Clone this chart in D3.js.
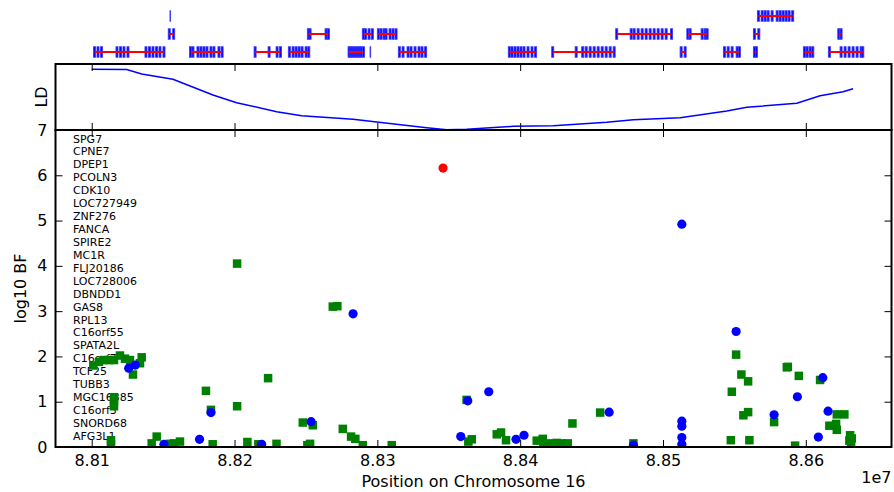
<!DOCTYPE html>
<html>
<head>
<meta charset="utf-8">
<script src="https://cdn.jsdelivr.net/npm/d3@7"></script>
<style>
  body { margin: 0; background: #fff; }
  svg { display: block; font-family: "DejaVu Sans", sans-serif; }
</style>
</head>
<body>
<svg id="chart" width="894" height="492"></svg>
<script>
// ---- data -------------------------------------------------------------
const xTicks = [88100000, 88200000, 88300000, 88400000, 88500000, 88600000];
const yTicks = [0, 1, 2, 3, 4, 5, 6, 7];

// Genes in the region, listed in the panel
const geneNames = ["SPG7", "CPNE7", "DPEP1", "PCOLN3", "CDK10", "LOC727949", "ZNF276",
  "FANCA", "SPIRE2", "MC1R", "FLJ20186", "LOC728006", "DBNDD1", "GAS8", "RPL13",
  "C16orf55", "SPATA2L", "C16orf7", "TCF25", "TUBB3", "MGC16385", "C16orf3",
  "SNORD68", "AFG3L1"];

// Gene models: track row and exon start positions (bp)
const geneRows = [3, 3, 3, 3, 3, 3, 3, 2, 2, 2, 2, 3, 3, 3, 3, 3, 3, 3, 2, 2, 2, 2, 1, 1];
const geneExons = [
  [88101300, 88103700, 88106200, 88117000, 88119500, 88121900, 88124700, 88137300, 88139800, 88142200, 88144700, 88147100, 88149900],
  [88168500, 88170200, 88173700, 88175800, 88177900, 88180000, 88182800, 88184900, 88188400, 88190600],
  [88213700, 88223500, 88229100, 88231500],
  [88237700, 88240300, 88242400, 88244500, 88246600, 88249400, 88251300],
  [88279500, 88280900, 88282300, 88283700, 88285100, 88286500, 88287900, 88289600],
  [88294900],
  [88314700, 88317300, 88320800, 88322900, 88325700, 88328500, 88330600, 88333100],
  [88153600, 88156700],
  [88251000, 88252200, 88263400, 88265000],
  [88289500, 88291000, 88293500, 88295800],
  [88300000, 88301900, 88304000, 88305400, 88308200, 88310300, 88312400],
  [88391700, 88393600, 88395700, 88397800, 88399900, 88402000, 88404800, 88407600, 88410100],
  [88422100, 88438500, 88443100, 88445500, 88448300, 88451100, 88453900, 88456700, 88459500, 88462300, 88465100],
  [88512000, 88514800],
  [88542300, 88544900, 88547700, 88551200, 88552800],
  [88563300, 88564700],
  [88598300, 88600200, 88602300, 88604200],
  [88615800, 88624000, 88626800, 88629600, 88632400, 88635200, 88638000, 88639200],
  [88466900, 88477000, 88479100, 88481900, 88484700, 88487500, 88490300, 88493100, 88495900, 88498700, 88501500, 88505300],
  [88516700, 88518300, 88526700, 88528800, 88530200],
  [88563300, 88566400],
  [88622400, 88624000],
  [88154800],
  [88566100, 88568700, 88570800, 88572900, 88575700, 88579200, 88581300, 88583400, 88585500, 88587600, 88590100]
];

// LD profile relative to the top SNP
const ldPos = [88100000, 88124500, 88135000, 88156900, 88184900, 88201500, 88229500, 88247000,
  88283000, 88299600, 88334600, 88348600, 88362600, 88395200, 88423200, 88460600, 88479300,
  88512000, 88544700, 88558700, 88593700, 88610000, 88626100, 88633100];
const ldVal = [0.92, 0.915, 0.85, 0.77, 0.53, 0.414, 0.277, 0.217, 0.162, 0.121, 0.035, 0.005,
  0.011, 0.056, 0.065, 0.117, 0.156, 0.186, 0.288, 0.344, 0.405, 0.52, 0.58, 0.626];

// Genotyped SNPs (log10 Bayes factor)
const bluePos = [88513200, 88551200, 88462300, 88513200, 88513200, 88513200, 88513200, 88479300,
  88577800, 88594100, 88611900, 88615600, 88608800, 88283000, 88253600, 88363300, 88378000,
  88358400, 88219000, 88397100, 88402700, 88125900, 88130500, 88183500, 88175500, 88150600];
const blueVal = [4.92, 2.55, 0.77, 0.57, 0.46, 0.21, 0.06, 0.04, 0.71, 1.11, 1.53, 0.79, 0.22,
  2.94, 0.56, 1.02, 1.22, 0.23, 0.06, 0.17, 0.26, 1.74, 1.81, 0.76, 0.17, 0.06];

// Imputed SNPs (log10 Bayes factor)
const greenPos = [88101100, 88105100, 88108600, 88112100, 88115600, 88119800, 88123300, 88126800,
  88135000, 88133800, 88128900, 88115600, 88115600, 88115600, 88113500, 88113500, 88145500,
  88142000, 88154800, 88161800, 88157600, 88180000, 88183500, 88184700, 88201800, 88201800,
  88223500, 88209000, 88216700, 88229400, 88247800, 88254800, 88252900, 88251000, 88268800,
  88272000, 88275800, 88281600, 88284600, 88289800, 88310100, 88362500, 88363700, 88366100,
  88383600, 88386600, 88390100, 88411600, 88415800, 88416200, 88420900, 88425600, 88429100,
  88433300, 88436600, 88456000, 88479300, 88551200, 88554900, 88559600, 88548200, 88556300,
  88559600, 88547500, 88560500, 88586700, 88587400, 88595100, 88610000, 88577800, 88592500,
  88616500, 88621200, 88621700, 88621700, 88627000, 88631000, 88632200, 88630500, 88631700];
const greenVal = [1.80, 1.88, 1.92, 1.92, 1.92, 2.02, 1.95, 1.92,
  1.98, 1.85, 1.60, 1.10, 1.00, 0.90, 0.15, 0.07, 0.23,
  0.08, 0.07, 0.12, 0.08, 1.24, 0.82, 0.06, 4.05, 0.90,
  1.52, 0.11, 0.06, 0.07, 0.54, 0.48, 0.07, 0.04, 3.10,
  3.11, 0.40, 0.23, 0.18, 0.04, 0.04, 1.04, 0.12, 0.17,
  0.28, 0.32, 0.15, 0.14, 0.18, 0.07, 0.08, 0.09, 0.08,
  0.08, 0.52, 0.76, 0.08, 2.04, 1.60, 1.45, 1.22, 0.70,
  0.77, 0.15, 0.15, 1.76, 1.77, 1.57, 1.48, 0.55, 0.03,
  0.47, 0.51, 0.38, 0.72, 0.72, 0.26, 0.19, 0.14, 0.08];

// Lead SNP
const topPos = [88346000];
const topVal = [6.16];

// ---- layout -----------------------------------------------------------
const svg = d3.select("#chart");
const left = 55.5, right = 891.5;
const mainTop = 130, mainBottom = 447;
const ldTop = 64, ldBottom = 130;

const x = d3.scaleLinear().domain([88074650, 88660000]).range([left, right]);
const y = d3.scaleLinear().domain([0, 7]).range([mainBottom, mainTop]);
const ldY = d3.scaleLinear().domain([0, 1]).range([ldBottom, ldTop]);
const rowY = d3.scalePoint().domain([1, 2, 3]).range([16, 52]);

svg.append("rect").attr("width", 894).attr("height", 492).attr("fill", "#fff");

// ---- gene track -------------------------------------------------------
const exonW = 1400, exonH = 10.5;
const track = svg.append("g");
geneExons.forEach((exons, i) => {
  const g = track.append("g");
  const cy = rowY(geneRows[i]);
  const w = exons.length === 1 ? 400 : exonW;
  g.selectAll("rect").data(exons).enter().append("rect")
    .attr("x", d => x(d))
    .attr("y", cy - exonH / 2)
    .attr("width", x(88100000 + w) - x(88100000))
    .attr("height", exonH)
    .attr("fill", "#0000ff")
    .attr("stroke", "#3a3aff")
    .attr("stroke-width", 0.9);
  if (exons.length > 1) {
    const half = (x(88100000 + exonW) - x(88100000)) / 2;
    g.append("line")
      .attr("x1", x(d3.min(exons)) + half).attr("x2", x(d3.max(exons)) + half)
      .attr("y1", cy).attr("y2", cy)
      .attr("stroke", "#ff0000").attr("stroke-width", 2);
  }
});

// ---- LD panel ---------------------------------------------------------
const ldLine = d3.line().x((d, i) => x(ldPos[i])).y(d => ldY(d));
svg.append("path").datum(ldVal)
  .attr("d", ldLine)
  .attr("fill", "none").attr("stroke", "#0000ff").attr("stroke-width", 1.5);

function styleAxis(g) {
  g.select(".domain").remove();
  g.selectAll(".tick line").attr("stroke", "#000").attr("stroke-width", 1);
  g.selectAll(".tick text").attr("fill", "#000");
}

svg.append("g").attr("transform", `translate(0,${ldBottom})`)
  .call(d3.axisBottom(x).tickValues(xTicks).tickSize(-7).tickFormat(""))
  .call(styleAxis);
svg.append("g").attr("transform", `translate(0,${ldTop})`)
  .call(d3.axisTop(x).tickValues(xTicks).tickSize(-7).tickFormat(""))
  .call(styleAxis);

svg.append("rect")
  .attr("x", left).attr("y", ldTop).attr("width", right - left).attr("height", ldBottom - ldTop)
  .attr("fill", "none").attr("stroke", "#000").attr("stroke-width", 2);

svg.append("text")
  .attr("transform", `translate(47,${(ldTop + ldBottom) / 2}) rotate(-90)`)
  .attr("text-anchor", "middle")
  .attr("font-size", 16)
  .text("LD");

// ---- main panel -------------------------------------------------------
svg.append("defs").append("clipPath").attr("id", "plotClip")
  .append("rect").attr("x", left).attr("y", mainTop).attr("width", right - left).attr("height", mainBottom - mainTop);

// gene names listed inside the plot
svg.append("g").selectAll("text").data(geneNames).enter().append("text")
  .attr("x", 73)
  .attr("y", (d, i) => 142.5 + i * 12.93)
  .attr("font-size", 11)
  .attr("fill", "#000")
  .text(d => d);

const pts = svg.append("g").attr("clip-path", "url(#plotClip)");
const sq = 8.5;
pts.selectAll("rect.imp").data(greenVal).enter().append("rect")
  .attr("class", "imp")
  .attr("x", (d, i) => x(greenPos[i]) - sq / 2)
  .attr("y", d => y(d) - sq / 2)
  .attr("width", sq).attr("height", sq)
  .attr("fill", "#008000");
pts.selectAll("circle.gen").data(blueVal).enter().append("circle")
  .attr("class", "gen")
  .attr("cx", (d, i) => x(bluePos[i]))
  .attr("cy", d => y(d))
  .attr("r", 4.6)
  .attr("fill", "#0000ff");
pts.selectAll("circle.top").data(topVal).enter().append("circle")
  .attr("class", "top")
  .attr("cx", (d, i) => x(topPos[i]))
  .attr("cy", d => y(d))
  .attr("r", 4.6)
  .attr("fill", "#ff0000");

// axes with inward ticks
svg.append("g").attr("transform", `translate(0,${mainBottom})`)
  .call(d3.axisBottom(x).tickValues(xTicks).tickSize(-7).tickPadding(8)
    .tickFormat(d => (d / 1e7).toFixed(2)))
  .call(styleAxis)
  .call(g => g.selectAll(".tick text").attr("font-size", 16).attr("font-family", "DejaVu Sans"));
svg.append("g").attr("transform", `translate(0,${mainTop})`)
  .call(d3.axisTop(x).tickValues(xTicks).tickSize(-7).tickFormat(""))
  .call(styleAxis);
svg.append("g").attr("transform", `translate(${left},0)`)
  .call(d3.axisLeft(y).tickValues(yTicks).tickSize(-7).tickPadding(8).tickFormat(d3.format("d")))
  .call(styleAxis)
  .call(g => g.selectAll(".tick text").attr("font-size", 16).attr("font-family", "DejaVu Sans"));
svg.append("g").attr("transform", `translate(${right},0)`)
  .call(d3.axisRight(y).tickValues(yTicks).tickSize(-7).tickFormat(""))
  .call(styleAxis);

svg.append("rect")
  .attr("x", left).attr("y", mainTop).attr("width", right - left).attr("height", mainBottom - mainTop)
  .attr("fill", "none").attr("stroke", "#000").attr("stroke-width", 2);

// axis titles
svg.append("text")
  .attr("transform", `translate(26,${(mainTop + mainBottom) / 2}) rotate(-90)`)
  .attr("text-anchor", "middle")
  .attr("font-size", 16)
  .text("log10 BF");
svg.append("text")
  .attr("x", (left + right) / 2).attr("y", 487)
  .attr("text-anchor", "middle")
  .attr("font-size", 16)
  .text("Position on Chromosome 16");
svg.append("text")
  .attr("x", right).attr("y", 483)
  .attr("text-anchor", "end")
  .attr("font-size", 16)
  .text("1e7");
</script>
</body>
</html>
